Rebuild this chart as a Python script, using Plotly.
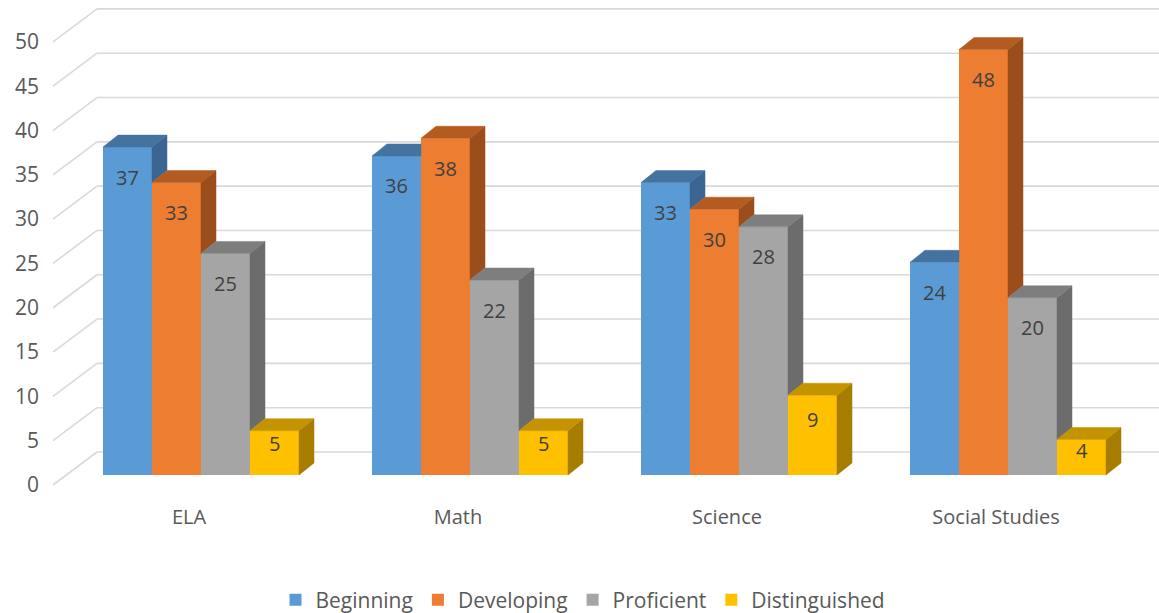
import plotly.graph_objects as go

# ---------------- data ----------------
categories = ["ELA", "Math", "Science", "Social Studies"]
series_names = ["Beginning", "Developing", "Proficient", "Distinguished"]
beginning = [37, 36, 33, 24]
developing = [33, 38, 30, 48]
proficient = [25, 22, 28, 20]
distinguished = [5, 5, 9, 4]
y_ticks = [0, 5, 10, 15, 20, 25, 30, 35, 40, 45, 50]

series_values = [beginning, developing, proficient, distinguished]

# ---------------- styles ----------------
front_colors = ["#5B9BD5", "#ED7D31", "#A5A5A5", "#FFC000"]
top_colors = ["#4573A0", "#B35B20", "#7E7E7E", "#C49300"]
side_colors = ["#3B6592", "#9B4E1B", "#6C6C6C", "#A77D00"]
FONT = "Open Sans, Liberation Sans, sans-serif"
TEXT_COLOR = "#595959"
LABEL_COLOR = "#404040"
GRID_COLOR = "#D9D9D9"

# ---------------- geometry (pixels) ----------------
W, H = 1159, 613
ML, MR, MT, MB = 40, 0, 5, 108
PX_PER_CAT = 269.0      # pixels between category centres
PX_PER_UNIT = 8.862     # pixels per value unit
CAT0_PX = 201.0         # pixel x of first category centre (bar fronts)
BASE_PX = 475.0         # pixel y of value 0 on the bar fronts
DEPTH_DX_PX, DEPTH_DY_PX = 15.0, 12.0   # bar depth offset
FLOOR_FRONT_X, FLOOR_FRONT_DY = 53.0, 10.0
FLOOR_BACK_X, FLOOR_BACK_DY = 97.0, -23.0
BARGAP = 0.2714

x_range = [(ML - CAT0_PX) / PX_PER_CAT, (W - MR - CAT0_PX) / PX_PER_CAT]
y_range = [(BASE_PX - (H - MB)) / PX_PER_UNIT, (BASE_PX - MT) / PX_PER_UNIT]


def px_x(p):
    return (p - CAT0_PX) / PX_PER_CAT


dx = DEPTH_DX_PX / PX_PER_CAT
dy = DEPTH_DY_PX / PX_PER_UNIT
n_series = len(series_values)
bw = (1 - BARGAP) / n_series

fig = go.Figure()

# front faces: real bar traces
for j, vals in enumerate(series_values):
    fig.add_trace(go.Bar(
        x=list(range(len(categories))), y=vals, name=series_names[j],
        marker=dict(color=front_colors[j], line=dict(width=0)),
        hoverinfo="skip",
    ))

# top and side faces computed from the data, with hidden parts removed
for j, vals in enumerate(series_values):
    tx, ty, sx, sy = [], [], [], []
    for i, h in enumerate(vals):
        xl = i - (1 - BARGAP) / 2 + j * bw
        xr = xl + bw
        nxt = series_values[j + 1][i] if j + 1 < n_series else None
        # top face
        poly = [(xl, h), (xr, h)]
        if nxt is None or nxt < h:
            poly += [(xr + dx, h + dy)]
        else:
            if nxt < h + dy:
                poly += [(xr, nxt), (xr + (h + dy - nxt) * dx / dy, h + dy)]
            else:
                poly += [(xr, h + dy)]
        poly += [(xl + dx, h + dy), (xl, h)]
        for px_, py_ in poly:
            tx.append(px_)
            ty.append(py_)
        tx.append(None)
        ty.append(None)
        # side face (visible above the next bar)
        low = 0 if nxt is None else nxt
        if low < h:
            side = [(xr, low), (xr, h), (xr + dx, h + dy), (xr + dx, low + dy), (xr, low)]
            for px_, py_ in side:
                sx.append(px_)
                sy.append(py_)
            sx.append(None)
            sy.append(None)
    fig.add_trace(go.Scatter(x=sx, y=sy, mode="lines", fill="toself",
                             fillcolor=side_colors[j],
                             line=dict(color=side_colors[j], width=0.5),
                             showlegend=False, hoverinfo="skip"))
    fig.add_trace(go.Scatter(x=tx, y=ty, mode="lines", fill="toself",
                             fillcolor=top_colors[j],
                             line=dict(color=top_colors[j], width=0.5),
                             showlegend=False, hoverinfo="skip"))

# data labels
annotations = []
for j, vals in enumerate(series_values):
    for i, h in enumerate(vals):
        xc = i - (1 - BARGAP) / 2 + (j + 0.5) * bw
        shift = min(30.0, 0.3 * h * PX_PER_UNIT)
        annotations.append(dict(x=xc, y=h, xref="x", yref="y", text=str(h),
                                showarrow=False, yshift=-shift,
                                font=dict(family=FONT, size=20, color=LABEL_COLOR)))

# floor / wall gridlines
shapes = []
for v in y_ticks:
    yf = v - FLOOR_FRONT_DY / PX_PER_UNIT
    yb = v - FLOOR_BACK_DY / PX_PER_UNIT
    shapes.append(dict(type="line", xref="x", yref="y", layer="below",
                       x0=px_x(FLOOR_FRONT_X), y0=yf, x1=px_x(FLOOR_BACK_X), y1=yb,
                       line=dict(color=GRID_COLOR, width=1.6)))
    shapes.append(dict(type="line", xref="x", yref="y", layer="below",
                       x0=px_x(FLOOR_BACK_X), y0=yb, x1=px_x(W), y1=yb,
                       line=dict(color=GRID_COLOR, width=1.6)))

# dummy trace for the tick label axis
fig.add_trace(go.Scatter(x=[0], y=[0], yaxis="y2", mode="markers",
                         marker=dict(opacity=0), showlegend=False, hoverinfo="skip"))

lab_off = FLOOR_FRONT_DY / PX_PER_UNIT
fig.update_layout(
    width=W, height=H,
    margin=dict(l=ML, r=MR, t=MT, b=MB, pad=0, autoexpand=False),
    paper_bgcolor="white", plot_bgcolor="white",
    barmode="group", bargap=BARGAP, bargroupgap=0,
    font=dict(family=FONT, size=20, color=TEXT_COLOR),
    xaxis=dict(range=x_range, tickvals=list(range(len(categories))), ticktext=categories,
               showgrid=False, zeroline=False, showline=False, ticks="",
               ticklabelshift=-12, ticklabelstandoff=-2, automargin=False, fixedrange=True,
               tickfont=dict(family=FONT, size=20, color=TEXT_COLOR)),
    yaxis=dict(range=y_range, showgrid=False, zeroline=False, showline=False,
               showticklabels=False, ticks="", automargin=False, fixedrange=True),
    yaxis2=dict(range=[y_range[0] + lab_off, y_range[1] + lab_off], overlaying="y",
                side="left", tickvals=y_ticks, showgrid=False, zeroline=False,
                showline=False, ticks="", automargin=False, fixedrange=True,
                tickfont=dict(family=FONT, size=21, color=TEXT_COLOR)),
    legend=dict(orientation="h", x=(583 - ML) / (W - ML - MR), xanchor="center",
                y=-(600 - (H - MB)) / (H - MB - MT), yanchor="middle",
                font=dict(family=FONT, size=21, color=TEXT_COLOR),
                bgcolor="rgba(0,0,0,0)"),
    annotations=annotations, shapes=shapes,
    showlegend=True,
)

fig.write_html("out.html")
